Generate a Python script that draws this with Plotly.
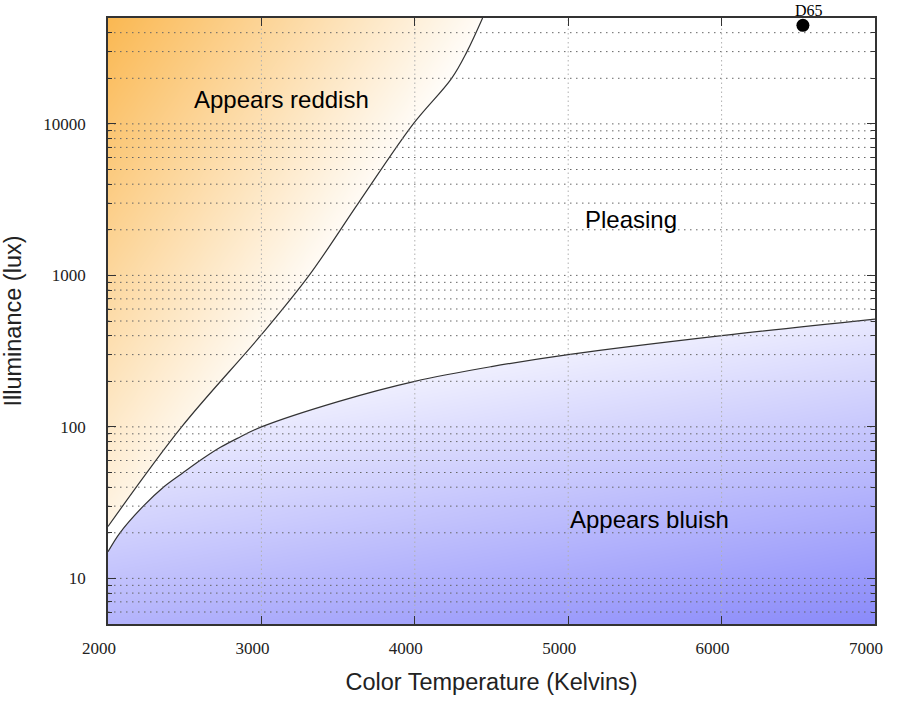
import numpy as np
import plotly.graph_objects as go

# ---------------- data ----------------
temp_upper = [2000, 2480, 3000, 3311, 3632, 3990, 4240, 4340, 4442]
lux_upper = [22, 100, 406, 1000, 3000, 10000, 20000, 30000, 50000]

temp_lower = [2000, 2078, 2230, 2361, 2491, 2621, 2730, 2843, 3000, 3500, 4000, 4500, 5000, 6000, 7000]
lux_lower = [15, 20, 30, 40, 50, 62, 73, 84, 100, 147, 200, 250, 300, 400, 515]

d65_temp = [6530]
d65_lux = [44700]
d65_name = "D65"

region_names = ["Appears reddish", "Pleasing", "Appears bluish"]
region_temp = [3134, 5409, 5527]
region_lux = [14450, 2330, 24.3]

x_ticks = [2000, 3000, 4000, 5000, 6000, 7000]
x_tick_text = ["2000", "3000", "4000", "5000", "6000", "7000"]
y_ticks = [10, 100, 1000, 10000]
y_tick_text = ["10", "100", "1000", "10000"]
x_range = [2000, 7000]
y_range = [5, 50000]

x_title = "Color Temperature (Kelvins)"
y_title = "Illuminance (lux)"

# ---------------- styling ----------------
ORANGE = "rgb(250,184,82)"
BLUE = "rgb(138,138,250)"
LINE = "#333333"
SERIF = "Liberation Serif"
SANS = "Liberation Sans"

lo_log = np.log10(y_range[0])
hi_log = np.log10(y_range[1])

# background gradient (orange / blue); the 'Pleasing' band is covered in white later
gT = np.linspace(1950, 7050, 206)
gL = np.linspace(lo_log - 0.1, hi_log + 0.1, 212)
TT, LL = np.meshgrid(gT, gL)

Lu = np.log10(lux_upper)
Ll = np.log10(lux_lower)
up_i = np.interp(TT, temp_upper, Lu, right=7.0)
lo_i = np.interp(TT, temp_lower, Ll)
is_orange = LL > 0.5 * (up_i + lo_i)

# orange: strongest at top-left, fading toward the curve
uo = (TT - x_range[0]) / (temp_upper[-1] - x_range[0])
vo = (hi_log - LL) / (hi_log - Lu[0])
s = np.clip(1 - 0.95 * uo - 0.85 * vo, 0, 1)
# blue: strongest at bottom-right
ub = (TT - x_range[0]) / (x_range[1] - x_range[0])
vb = (Ll[-1] - LL) / (Ll[-1] - lo_log)
d = np.clip((-19 + 42 * ub + 94 * vb) / 117.0, 0, 1)
zz = np.where(is_orange, -s, d)

fig = go.Figure()
fig.add_trace(go.Heatmap(
    x=gT, y=10 ** gL, z=np.round(zz, 4), zmin=-1, zmax=1, zsmooth="best",
    colorscale=[[0, ORANGE], [0.5, "white"], [1, BLUE]],
    showscale=False, hoverinfo="skip"))

# white cover right of the upper curve end
fig.add_trace(go.Scatter(
    x=[temp_upper[-1], 8000, 8000, temp_lower[-1], 5200, temp_upper[-1]],
    y=[lux_upper[-1], 200000, lux_lower[-1], lux_lower[-1], 2500, lux_upper[-1]],
    mode="lines", fill="toself", fillcolor="white", line=dict(width=0),
    hoverinfo="skip", showlegend=False))

fig.add_trace(go.Scatter(
    x=temp_lower, y=lux_lower, mode="lines",
    line=dict(color=LINE, width=1.2, shape="spline"),
    hoverinfo="skip", showlegend=False))
fig.add_trace(go.Scatter(
    x=temp_upper, y=lux_upper, mode="lines", fill="tonexty", fillcolor="white",
    line=dict(color=LINE, width=1.2, shape="spline"),
    hoverinfo="skip", showlegend=False))

# dotted grid drawn above the fills
hx, hy = [], []
for n in range(0, 5):
    for k in range(1, 10):
        v = k * 10 ** n
        if y_range[0] < v < y_range[1]:
            hx += [x_range[0], x_range[1], None]
            hy += [v, v, None]
fig.add_trace(go.Scatter(x=hx, y=hy, mode="lines",
                         line=dict(color="#666666", width=1, dash="1.5px,4.5px"),
                         hoverinfo="skip", showlegend=False))
vx, vy = [], []
for t in x_ticks[1:-1]:
    vx += [t, t, None]
    vy += [y_range[0], y_range[1], None]
fig.add_trace(go.Scatter(x=vx, y=vy, mode="lines",
                         line=dict(color="#b0b0b0", width=1, dash="1.5px,3px"),
                         hoverinfo="skip", showlegend=False))

fig.add_trace(go.Scatter(x=d65_temp, y=d65_lux, mode="markers",
                         marker=dict(color="black", size=13),
                         cliponaxis=False, hoverinfo="skip", showlegend=False))

fig.add_annotation(x=d65_temp[0], y=np.log10(d65_lux[0]), text=d65_name,
                   showarrow=False, xshift=6, yshift=15, borderpad=0,
                   font=dict(family=SERIF, size=16, color="black"))
for name, t, l in zip(region_names, region_temp, region_lux):
    fig.add_annotation(x=t, y=np.log10(l), text=name, showarrow=False,
                       font=dict(family=SANS, size=24, color="black"))

fig.update_xaxes(
    range=x_range, tickvals=x_ticks, ticktext=x_tick_text,
    ticks="inside", ticklen=8, tickcolor=LINE, tickwidth=1,
    showline=True, mirror="ticks", linecolor=LINE, linewidth=1.5,
    showgrid=False, zeroline=False, ticklabelshift=-9, ticklabelstandoff=8,
    tickfont=dict(family=SERIF, size=17, color="#222"),
    title=dict(text=x_title, font=dict(family=SANS, size=23.5, color="#222"), standoff=16))
fig.update_yaxes(
    type="log", range=[lo_log, hi_log], tickvals=y_ticks, ticktext=y_tick_text,
    ticks="inside", ticklen=8, tickcolor=LINE, tickwidth=1,
    minor=dict(ticks="inside", ticklen=4, tickcolor=LINE, dtick="D1", showgrid=False),
    showline=True, mirror="ticks", linecolor=LINE, linewidth=1.5,
    showgrid=False, zeroline=False, ticklabelstandoff=17, ticklabelshift=0,
    tickfont=dict(family=SERIF, size=17, color="#222"),
    title=dict(text=y_title, font=dict(family=SANS, size=23.5, color="#222"), standoff=15))

fig.update_layout(
    width=912, height=715, autosize=False,
    margin=dict(l=108, r=37, t=18, b=91),
    paper_bgcolor="white", plot_bgcolor="white", showlegend=False)

fig.write_html("out.html", config={"displayModeBar": False},
               post_script="document.body.style.margin='0px';")
